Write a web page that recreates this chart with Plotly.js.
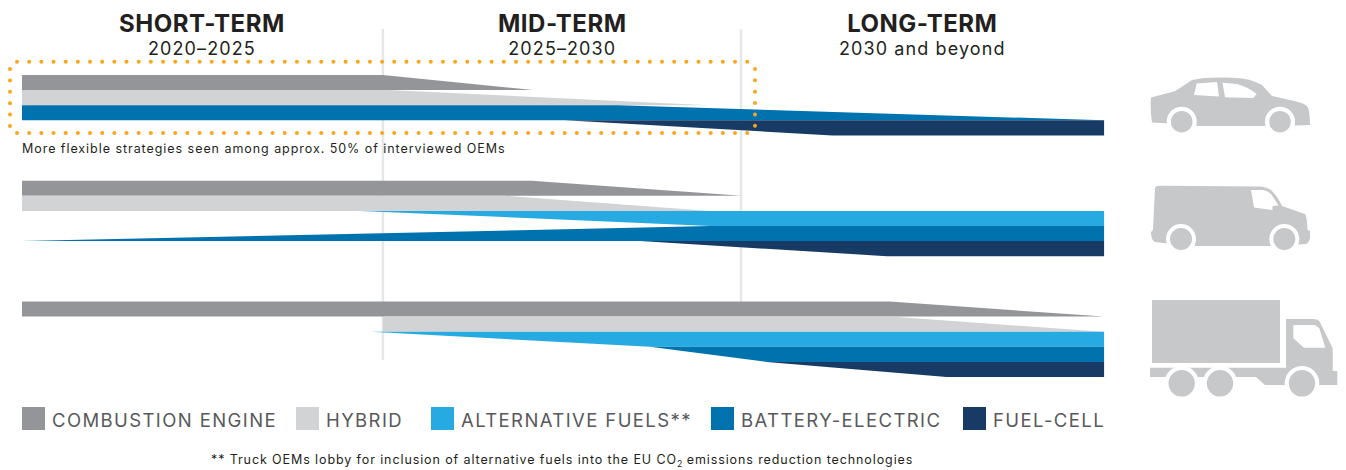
<!DOCTYPE html>
<html>
<head>
<meta charset="utf-8">
<script src="https://cdn.plot.ly/plotly-3.0.1.min.js"></script>
<style>html,body{margin:0;padding:0;background:#fff}#chart{width:1346px;height:470px}</style>
</head>
<body>
<div id="chart"></div>
<script>
// Powertrain technology colours and legend labels
const powertrainNames = ["COMBUSTION ENGINE", "HYBRID", "ALTERNATIVE FUELS**", "BATTERY-ELECTRIC", "FUEL-CELL"];
const powertrainColors = ["#939598", "#d1d3d4", "#27aae1", "#0072ae", "#183b66"];

// Bands: x is the calendar year, y is the lane position in stacked lane units
const END = 2035.05;
const MID = 2025.02;

const carCombustionX = [2020, MID, 2027.11, 2020];
const carCombustionY = [0, 0, 1, 1];
const carHybridX = [2020, 2025.1, 2029.55, 2020];
const carHybridY = [1, 1, 2, 2];
const carBatteryX = [2020, 2028.29, END, 2020];
const carBatteryY = [2, 2, 3, 3];
const carFuelCellX = [2027.55, 2031.27, END, END];
const carFuelCellY = [3, 4, 4, 3];

const vanCombustionX = [2020, 2027.09, 2030.01, 2020];
const vanCombustionY = [7, 7, 8, 8];
const vanHybridX = [2020, 2026.72, 2029.57, 2020];
const vanHybridY = [8, 8, 9, 9];
const vanAltFuelX = [2024.7, 2029.57, END, END];
const vanAltFuelY = [9, 10, 10, 9];
const vanBatteryX = [2020, 2029.57, END, END];
const vanBatteryY = [11, 10, 10, 11];
const vanFuelCellX = [2028.6, 2032.03, END, END];
const vanFuelCellY = [11, 12, 12, 11];

const truckCombustionX = [2020, 2032.07, END, 2020];
const truckCombustionY = [15, 15, 16, 16];
const truckHybridX = [MID, 2032.07, END, MID];
const truckHybridY = [16, 16, 17, 17];
const truckAltFuelX = [2024.85, 2028.73, END, END];
const truckAltFuelY = [17, 18, 18, 17];
const truckBatteryX = [2028.73, 2030.36, END, END];
const truckBatteryY = [18, 19, 19, 18];
const truckFuelCellX = [2030.36, 2032.86, END, END];
const truckFuelCellY = [19, 20, 20, 19];

const bands = [
  [carCombustionX, carCombustionY, 0], [carHybridX, carHybridY, 1], [carBatteryX, carBatteryY, 3], [carFuelCellX, carFuelCellY, 4],
  [vanCombustionX, vanCombustionY, 0], [vanHybridX, vanHybridY, 1], [vanAltFuelX, vanAltFuelY, 2], [vanBatteryX, vanBatteryY, 3], [vanFuelCellX, vanFuelCellY, 4],
  [truckCombustionX, truckCombustionY, 0], [truckHybridX, truckHybridY, 1], [truckAltFuelX, truckAltFuelY, 2], [truckBatteryX, truckBatteryY, 3], [truckFuelCellX, truckFuelCellY, 4]
];

const traces = bands.map(([x, y, k]) => ({
  type: "scatter", mode: "none", x, y, fill: "toself", fillcolor: powertrainColors[k],
  name: powertrainNames[k], showlegend: false, hoverinfo: "name"
}));

// Dotted frame around the first row, on the page-coordinate axes
const dotX = [], dotY = [];
for (let i = 0; i <= 60; i++) {
  const px = 17 + i * 12.17;
  dotX.push(px, px); dotY.push(61.7, 133);
}
for (let i = 0; i < 6; i++) {
  dotX.push(10, 755); dotY.push(69 + i * 11.4, 69 + i * 11.35);
}
traces.push({
  type: "scatter", mode: "markers", x: dotX, y: dotY, xaxis: "x2", yaxis: "y2",
  marker: {color: "#faa61a", size: 4}, showlegend: false, hoverinfo: "skip"
});

const FONT = "Inter, sans-serif";
const INK = "#231f20";
const spaced = (text, px) => '<span style="letter-spacing:' + px + 'px">' + text + "</span>";
const label = (x, y, text, size, extra) => Object.assign({
  xref: "x2", yref: "y2", x, y, text, showarrow: false, xanchor: "center", yanchor: "middle",
  font: {family: FONT, size, color: INK}
}, extra || {});

const periodTitles = ["SHORT-TERM", "MID-TERM", "LONG-TERM"];
const periodRanges = ["2020–2025", "2025–2030", "2030 and beyond"];
const periodCentres = [202, 562, 922];

const annotations = [];
periodTitles.forEach((t, i) => {
  annotations.push(label(periodCentres[i], 33.5,
    '<span style="font-size:24px;letter-spacing:0.5px"><b>' + t + "</b></span><br>" + spaced(periodRanges[i], 1.1), 18));
});
annotations.push(label(20, 148, spaced("More flexible strategies seen among approx. 50% of interviewed OEMs", 0.95), 12.5, {xanchor: "left"}));
annotations.push(label(562, 460, spaced("** Truck OEMs lobby for inclusion of alternative fuels into the EU CO", 0.9) + "<sub>2</sub>" + spaced(" emissions reduction technologies", 0.9), 12.5));

// Legend row: swatch left edges
const swatchLeft = [22, 296, 431, 711, 963];
const shapes = [];
swatchLeft.forEach((x, i) => {
  shapes.push({type: "rect", xref: "x2", yref: "y2", x0: x, x1: x + 23, y0: 407, y1: 430,
    fillcolor: powertrainColors[i], line: {width: 0}, layer: "above"});
  annotations.push(label(x + 28, 419.5, spaced(powertrainNames[i], 1.4), 18.5, {xanchor: "left", font: {family: FONT, size: 18.5, color: "#58595b"}}));
});

// Period divider lines, in year and lane units, underneath the bands
[[MID, -3.05, 18.87], [2030, -3.05, 15]].forEach(([yr, a, b]) => {
  shapes.push({type: "line", xref: "x", yref: "y", x0: yr, x1: yr, y0: a, y1: b,
    line: {color: "#e6e7e8", width: 2.5}, layer: "below"});
});

// Vehicle silhouettes, page coordinates
const ICON = "#c7c8ca";
const poly = (d, color) => ({type: "path", xref: "x2", yref: "y2", path: d, fillcolor: color, line: {width: 0}, layer: "above"});
const wheel = (cx, cy, r, ring) => [
  {type: "circle", xref: "x2", yref: "y2", x0: cx - ring, x1: cx + ring, y0: cy - ring, y1: cy + ring, fillcolor: "#fff", line: {width: 0}, layer: "above"},
  {type: "circle", xref: "x2", yref: "y2", x0: cx - r, x1: cx + r, y0: cy - r, y1: cy + r, fillcolor: ICON, line: {width: 0}, layer: "above"}
];
// Car
shapes.push(poly("M1151,97.5 L1172,92 Q1176,91 1180,88 L1192,80 Q1200,78.5 1205,78 L1220,77.5 Q1240,77 1250,80 Q1256,82 1262,85 L1272,96 L1290,100 Q1304,103 1307,106 Q1310,110 1310,125 L1295,125.5 L1265,126 L1197,126 L1170,123.5 L1152,122.5 Q1150,110 1151,97.5 Z", ICON));
shapes.push(poly("M1196.7,83.5 L1217,82 L1219,96.5 L1194,95 Z", "#fff"));
shapes.push(poly("M1222.5,82.7 L1237,84 Q1248,87 1256.7,94 L1253.3,98 L1225,97.3 Z", "#fff"));
shapes.push(...wheel(1181.7, 121.7, 10.8, 15), ...wheel(1280, 121.7, 10.8, 15));
// Van
shapes.push(poly("M1155,188 Q1156,185.5 1160,185.7 L1260,186.5 Q1268,187 1272,191 Q1278,197 1282,206 L1305,214 Q1307,216 1307.5,230 L1310,231 L1310,238 Q1309,243 1306,244 L1300,244.5 L1270,246 L1195,246 L1167,243.5 L1155,242 Q1151,240 1151,232 L1153,230 Z", ICON));
shapes.push(poly("M1251,190 L1263,190 Q1268,191 1271,194 L1278.5,205.5 L1272.5,206 L1272.5,210 L1254,207.5 Z", "#fff"));
shapes.push(...wheel(1181, 239, 11, 15), ...wheel(1284.3, 239, 11, 15));
// Truck
shapes.push(poly("M1152,300 L1280,300 L1280,363 L1152,363 Z", ICON));
shapes.push(poly("M1286,319 L1313.3,319 Q1318,319 1320,322.3 L1332.7,348.3 L1332.7,371 L1337.3,371 L1337.3,385 L1265,385 L1256,377 L1150,377 L1150,367.7 L1286,367.7 Z", ICON));
shapes.push(poly("M1293.3,325 L1315,325 L1319.3,328.3 L1325.3,347.7 L1304,347.7 L1293.3,338.3 Z", "#fff"));
shapes.push(...wheel(1181.7, 383.3, 13.2, 17.3), ...wheel(1220, 383.3, 13.2, 17.3), ...wheel(1302, 383.3, 13.2, 17.3));

// Axis scales: one year spans 71.9 px, one lane spans 15.1 px, the first lane starts 75 px down
const yearStart = 2020 - 22 / 71.9;
const layout = {
  width: 1346, height: 470, margin: {l: 0, r: 0, t: 0, b: 0},
  paper_bgcolor: "#fff", plot_bgcolor: "#fff", showlegend: false, hovermode: "closest",
  xaxis: {range: [yearStart, yearStart + 1346 / 71.9], visible: false, fixedrange: true},
  yaxis: {range: [(470 - 75) / 15.1, -75 / 15.1], visible: false, fixedrange: true},
  xaxis2: {range: [0, 1346], visible: false, overlaying: "x", fixedrange: true},
  yaxis2: {range: [470, 0], visible: false, overlaying: "y", fixedrange: true},
  annotations, shapes
};
Plotly.newPlot("chart", traces, layout, {displayModeBar: false, staticPlot: true});
</script>
</body>
</html>
